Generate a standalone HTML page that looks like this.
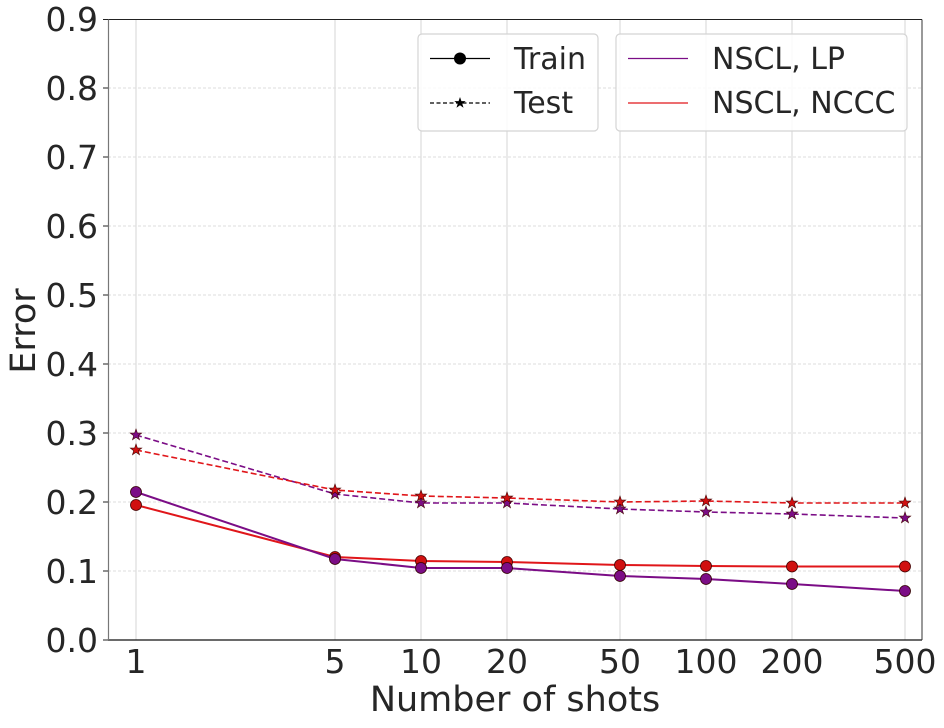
<!DOCTYPE html>
<html><head><style>body{margin:0;background:#fff}svg{display:block}</style></head><body>
<svg width="944" height="728" xmlns="http://www.w3.org/2000/svg" font-family="DejaVu Sans, Liberation Sans, sans-serif">
<defs>
<polygon id="st" points="0,-6 1.4,-1.9 5.7,-1.9 2.3,0.7 3.5,4.8 0,2.3 -3.5,4.8 -2.3,0.7 -5.7,-1.9 -1.4,-1.9" />
</defs>
<g stroke="#ddd" stroke-width="1" stroke-dasharray="3,2">
<line x1="108" x2="922" y1="571" y2="571"/><line x1="108" x2="922" y1="502" y2="502"/><line x1="108" x2="922" y1="433" y2="433"/><line x1="108" x2="922" y1="364" y2="364"/><line x1="108" x2="922" y1="295" y2="295"/><line x1="108" x2="922" y1="226" y2="226"/><line x1="108" x2="922" y1="157" y2="157"/><line x1="108" x2="922" y1="88" y2="88"/>
</g>
<g stroke="#ddd" stroke-width="1.2">
<line x1="136" x2="136" y1="20" y2="640"/><line x1="335" x2="335" y1="20" y2="640"/><line x1="421" x2="421" y1="20" y2="640"/><line x1="507" x2="507" y1="20" y2="640"/><line x1="620" x2="620" y1="20" y2="640"/><line x1="706" x2="706" y1="20" y2="640"/><line x1="792" x2="792" y1="20" y2="640"/><line x1="905" x2="905" y1="20" y2="640"/>
</g>
<polyline fill="none" stroke="#7b0d86" stroke-width="1.6" stroke-dasharray="6,3" points="136,435 335,494 421,503 507,503 620,509 706,512 792,514 905,518"/>
<polyline fill="none" stroke="#e0161a" stroke-width="1.6" stroke-dasharray="6,3" points="136,450 335,490 421,496 507,498 620,502 706,501 792,503 905,503"/>
<g fill="#7b0d86" stroke="#400" stroke-width="0.6">
<use href="#st" x="136" y="435"/><use href="#st" x="335" y="494"/><use href="#st" x="421" y="503"/><use href="#st" x="507" y="503"/><use href="#st" x="620" y="509"/><use href="#st" x="706" y="512"/><use href="#st" x="792" y="514"/><use href="#st" x="905" y="518"/>
</g>
<g fill="#d01010" stroke="#400" stroke-width="0.6">
<use href="#st" x="136" y="450"/><use href="#st" x="335" y="490"/><use href="#st" x="421" y="496"/><use href="#st" x="507" y="498"/><use href="#st" x="620" y="502"/><use href="#st" x="706" y="501"/><use href="#st" x="792" y="503"/><use href="#st" x="905" y="503"/>
</g>
<polyline fill="none" stroke="#e0161a" stroke-width="2" points="136,505 335,557 421,561 507,562 620,565 706,566 792,566.5 905,566.5"/>
<g fill="#d01010" stroke="#400" stroke-width="0.8">
<circle cx="136" cy="505" r="5.5"/><circle cx="335" cy="557" r="5.5"/><circle cx="421" cy="561" r="5.5"/><circle cx="507" cy="562" r="5.5"/><circle cx="620" cy="565" r="5.5"/><circle cx="706" cy="566" r="5.5"/><circle cx="792" cy="566.5" r="5.5"/><circle cx="905" cy="566.5" r="5.5"/>
</g>
<polyline fill="none" stroke="#7b0d86" stroke-width="2" points="136,492 335,559 421,568 507,568 620,576 706,579 792,584 905,591"/>
<g fill="#7b0d86" stroke="#300" stroke-width="0.8">
<circle cx="136" cy="492" r="5.5"/><circle cx="335" cy="559" r="5.5"/><circle cx="421" cy="568" r="5.5"/><circle cx="507" cy="568" r="5.5"/><circle cx="620" cy="576" r="5.5"/><circle cx="706" cy="579" r="5.5"/><circle cx="792" cy="584" r="5.5"/><circle cx="905" cy="591" r="5.5"/>
</g>
<line x1="108" x2="922" y1="19.5" y2="19.5" stroke="#222" stroke-width="1"/>
<line x1="108" x2="922" y1="640" y2="640" stroke="#111" stroke-width="1.2"/>
<line x1="108.5" x2="108.5" y1="19.5" y2="640" stroke="#777" stroke-width="1.2"/>
<line x1="922" x2="922" y1="19.5" y2="640" stroke="#333" stroke-width="1"/>
<g stroke="#222" stroke-width="1">
<line x1="103" x2="108" y1="640" y2="640"/><line x1="103" x2="108" y1="571" y2="571"/><line x1="103" x2="108" y1="502" y2="502"/><line x1="103" x2="108" y1="433" y2="433"/><line x1="103" x2="108" y1="364" y2="364"/><line x1="103" x2="108" y1="295" y2="295"/><line x1="103" x2="108" y1="226" y2="226"/><line x1="103" x2="108" y1="157" y2="157"/><line x1="103" x2="108" y1="88" y2="88"/><line x1="103" x2="108" y1="19.5" y2="19.5"/>
</g>
<g font-size="33" fill="#262626" text-anchor="end">
<text x="98" y="652">0.0</text><text x="98" y="583">0.1</text><text x="98" y="514">0.2</text><text x="98" y="445">0.3</text><text x="98" y="376">0.4</text><text x="98" y="307">0.5</text><text x="98" y="238">0.6</text><text x="98" y="169">0.7</text><text x="98" y="100">0.8</text><text x="98" y="31">0.9</text>
</g>
<g font-size="33" fill="#262626" text-anchor="middle">
<text x="136" y="673">1</text><text x="335" y="673">5</text><text x="421" y="673">10</text><text x="507" y="673">20</text><text x="620" y="673">50</text><text x="706" y="673">100</text><text x="792" y="673">200</text><text x="905" y="673">500</text>
<text x="515" y="711" font-size="35">Number of shots</text>
<text transform="translate(35,331) rotate(-90)" font-size="35">Error</text>
</g>
<rect x="418" y="34" width="180" height="97" rx="4" fill="#fff" fill-opacity="0.85" stroke="#d4d4d4" stroke-width="1.2"/>
<line x1="430" x2="490" y1="58.5" y2="58.5" stroke="#000" stroke-width="1.3"/>
<circle cx="460" cy="58.5" r="6" fill="#000"/>
<line x1="430" x2="490" y1="103" y2="103" stroke="#000" stroke-width="1.3" stroke-dasharray="4,2.5"/>
<use href="#st" x="460" y="103" fill="#000"/>
<g font-size="30" fill="#262626"><text x="514" y="69">Train</text><text x="514" y="113">Test</text></g>
<rect x="616" y="34" width="291" height="97" rx="4" fill="#fff" fill-opacity="0.85" stroke="#d4d4d4" stroke-width="1.2"/>
<line x1="628" x2="688" y1="58.5" y2="58.5" stroke="#7b0d86" stroke-width="1.3"/>
<line x1="628" x2="688" y1="103" y2="103" stroke="#e0161a" stroke-width="1.3"/>
<g font-size="30" fill="#262626"><text x="712" y="69">NSCL, LP</text><text x="712" y="113">NSCL, NCCC</text></g>
</svg>
</body></html>
